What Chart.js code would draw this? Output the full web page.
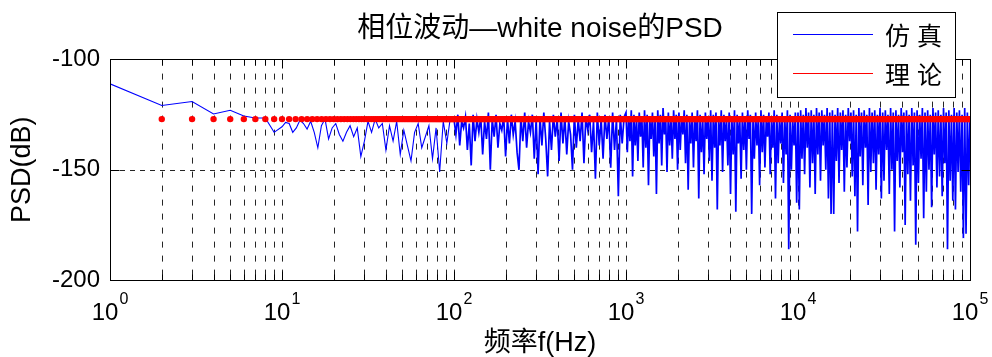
<!DOCTYPE html>
<html>
<head>
<meta charset="utf-8">
<script src="https://cdn.jsdelivr.net/npm/chart.js@4.4.1/dist/chart.umd.min.js"></script>
<style>
  html, body { margin: 0; padding: 0; background: #fff; }
</style>
</head>
<body>
<canvas id="c" width="992" height="357"></canvas>
<script>
// ---------------- data ----------------
const titleText = '相位波动—white noise的PSD';
const xAxisLabel = '频率f(Hz)';
const yAxisLabel = 'PSD(dB)';
const seriesNames = ['仿真', '理论'];
const seriesColors = ['#0000ff', '#ff0000'];

const xMajorTicks = [1, 10, 100, 1000, 10000, 100000];
const xTickExponents = ['0', '1', '2', '3', '4', '5'];
const xMinorMultipliers = [2, 3, 4, 5, 6, 7, 8, 9];
const yTicks = [-200, -150, -100];

// theoretical PSD level of the white phase noise (dB)
const theoryLevel = -127;

// simulated PSD, 1..9 Hz
const simFreqLow = [1, 2, 3, 4, 5, 6, 7, 8, 9];
const simPSDLow = [-111, -120.8, -119, -124.7, -123, -125.6, -126.5, -126.5, -133];

// simulated PSD, 10..100 Hz (48 samples per decade)
const simPSDDec1 = [
  -130.5,-128.5,-129,-133,-131,-127.5,-129,-131.5,
  -128,-133,-140,-130,-127,-136,-131,-129,
  -134,-137,-133,-130,-135,-131,-144,-137,
  -128,-133,-127,-131,-129,-141,-130,-137,
  -128,-143,-132,-139,-146,-133,-129,-140,
  -135,-130,-145,-131,-151,-128,-138,-126
];

// simulated PSD, 100..1000 Hz (90 samples per decade)
const simPSDDec2 = [
  -127,-134,-125,-139,-128,-131,-126,-141,-129,-148,
  -125,-137,-127,-133,-126,-143,-128,-136,-124,-150,
  -127,-135,-125,-140,-129,-132,-126,-144,-127,-138,
  -125,-134,-128,-142,-150,-126,-137,-124,-140,-128,
  -133,-125,-145,-127,-152,-126,-139,-124,-136,-153,
  -128,-141,-125,-135,-127,-146,-124,-138,-126,-143,
  -128,-134,-150,-125,-140,-127,-137,-124,-147,-126,
  -132,-125,-142,-128,-154,-124,-139,-127,-145,-125,
  -136,-126,-149,-124,-141,-127,-162,-125,-138,-126
];

// simulated PSD, 1000..10000 Hz (130 samples per decade)
const simPSDDec3 = [
  -124,-142,-126,-137,-123,-153,-125,-139,-127,-146,
  -124,-135,-126,-149,-123,-140,-125,-157,-127,-136,
  -124,-144,-126,-161,-123,-138,-125,-148,-122,-134,
  -126,-151,-124,-139,-127,-145,-123,-136,-125,-150,
  -124,-141,-126,-134,-123,-147,-125,-159,-127,-138,
  -124,-149,-126,-137,-123,-163,-125,-142,-127,-152,
  -124,-136,-126,-146,-123,-155,-125,-140,-124,-168,
  -126,-139,-123,-151,-125,-137,-127,-148,-124,-161,
  -126,-143,-123,-169,-125,-138,-127,-154,-124,-141,
  -126,-150,-123,-136,-125,-170,-127,-145,-124,-139,
  -126,-157,-123,-142,-125,-149,-127,-135,-124,-152,
  -126,-140,-123,-163,-125,-147,-127,-138,-124,-156,
  -126,-143,-123,-186,-125,-150,-127,-139,-124,-165
];

// simulated PSD, 10000..100000 Hz (130 samples per decade, incl. end point)
const simPSDDec4 = [
  -124,-168,-123,-145,-125,-152,-122,-140,-124,-158,
  -123,-147,-125,-161,-122,-143,-124,-155,-123,-139,
  -125,-150,-122,-163,-124,-170,-123,-170,-125,-146,
  -122,-156,-124,-141,-123,-160,-125,-149,-122,-137,
  -124,-153,-123,-162,-125,-178,-122,-144,-124,-157,
  -123,-140,-125,-166,-122,-151,-124,-147,-123,-159,
  -125,-143,-122,-163,-124,-155,-123,-141,-125,-161,
  -122,-150,-124,-178,-123,-146,-125,-158,-122,-142,
  -124,-175,-123,-152,-125,-164,-122,-148,-124,-184,
  -123,-156,-125,-145,-122,-172,-124,-160,-123,-150,
  -125,-167,-122,-143,-124,-158,-123,-153,-125,-162,
  -122,-147,-124,-186,-123,-155,-125,-164,-122,-168,
  -124,-151,-123,-160,-125,-181,-122,-179,-124,-157,
  -126
];

// ---------------- tables for the library ----------------
function decadePoints(startExp, values, perDecade) {
  return values.map((v, i) => ({ x: Math.pow(10, startExp + i / perDecade), y: v }));
}
const simPoints = simFreqLow.map((f, i) => ({ x: f, y: simPSDLow[i] }))
  .concat(decadePoints(1, simPSDDec1, 48))
  .concat(decadePoints(2, simPSDDec2, 90))
  .concat(decadePoints(3, simPSDDec3, 130))
  .concat(decadePoints(4, simPSDDec4, 130));

// theoretical curve: integer frequency bins 2..99, then dense bins to 1e5
const theoryPoints = [];
for (let f = 2; f < 100; f++) theoryPoints.push({ x: f, y: theoryLevel });
for (let k = 0; k <= 540; k++) theoryPoints.push({ x: Math.pow(10, 2 + k / 180), y: theoryLevel });

const xGridValues = [];
xMajorTicks.forEach(m => {
  xGridValues.push(m);
  if (m < 100000) xMinorMultipliers.forEach(k => xGridValues.push(m * k));
});

const FONT = '"Liberation Sans", "Noto Sans CJK SC", sans-serif';
const CJK_FONT = '"Noto Sans CJK SC", "Noto Sans CJK JP", sans-serif';
Chart.defaults.color = '#000';
Chart.defaults.font.family = FONT;

const matlabAxes = {
  id: 'matlabAxes',
  beforeDatasetsDraw(chart) {
    const { ctx, chartArea: a, scales: { x, y } } = chart;
    ctx.save();
    ctx.strokeStyle = '#262626';
    ctx.lineWidth = 1;
    ctx.setLineDash([6, 8]);
    xGridValues.forEach(v => {
      if (v <= 1 || v >= 100000) return;
      const px = Math.round(x.getPixelForValue(v)) + 0.5;
      ctx.beginPath(); ctx.moveTo(px, a.top); ctx.lineTo(px, a.bottom); ctx.stroke();
    });
    ctx.setLineDash([5, 5]);
    yTicks.forEach(v => {
      if (v <= -200 || v >= -100) return;
      const py = Math.round(y.getPixelForValue(v)) + 0.5;
      ctx.beginPath(); ctx.moveTo(a.left, py); ctx.lineTo(a.right, py); ctx.stroke();
    });
    ctx.restore();
  },
  afterDatasetsDraw(chart) {
    const { ctx, chartArea: a, scales: { x, y } } = chart;
    ctx.save();
    ctx.strokeStyle = '#000';
    ctx.lineWidth = 1;
    ctx.setLineDash([]);
    const L = Math.floor(a.left) + 0.5, R = Math.floor(a.right) + 0.5;
    const T = Math.floor(a.top) + 0.5, B = Math.floor(a.bottom) + 0.5;
    ctx.strokeRect(L, T, R - L, B - T);
    ctx.beginPath();
    xGridValues.forEach(v => {
      if (v <= 1 || v >= 100000) return;
      const len = xMajorTicks.includes(v) ? 9 : 6;
      const px = Math.round(x.getPixelForValue(v)) + 0.5;
      ctx.moveTo(px, B); ctx.lineTo(px, B - len);
      ctx.moveTo(px, T); ctx.lineTo(px, T + len);
    });
    yTicks.forEach(v => {
      if (v <= -200 || v >= -100) return;
      const py = Math.round(y.getPixelForValue(v)) + 0.5;
      ctx.moveTo(L, py); ctx.lineTo(L + 9, py);
      ctx.moveTo(R, py); ctx.lineTo(R - 9, py);
    });
    ctx.stroke();
    ctx.restore();
  },
  afterDraw(chart) {
    const { ctx, chartArea: a, scales: { x } } = chart;
    ctx.save();
    ctx.fillStyle = '#000';
    // title, centred over the plot area
    ctx.font = '28px ' + FONT;
    ctx.textAlign = 'center';
    ctx.textBaseline = 'middle';
    ctx.fillText(titleText, (a.left + a.right) / 2, 29);
    ctx.textBaseline = 'alphabetic';
    ctx.textAlign = 'left';
    // x tick labels 10^n
    xMajorTicks.forEach((v, i) => {
      const px = x.getPixelForValue(v);
      ctx.font = '24px ' + FONT;
      const w1 = ctx.measureText('10').width;
      ctx.font = '16px ' + FONT;
      const w2 = ctx.measureText(xTickExponents[i]).width;
      const start = px - (w1 + w2 + 1) / 2;
      ctx.font = '24px ' + FONT;
      ctx.fillText('10', start, 320);
      ctx.font = '16px ' + FONT;
      ctx.fillText(xTickExponents[i], start + w1 + 1, 304);
    });
    // legend box (overlapping the plot, as in the reference)
    ctx.fillStyle = '#fff';
    ctx.fillRect(777, 12, 179, 86);
    ctx.strokeStyle = '#000';
    ctx.lineWidth = 1;
    ctx.strokeRect(777.5, 12.5, 178, 85);
    const rowsY = [34.5, 73.5];
    seriesNames.forEach((name, i) => {
      ctx.strokeStyle = seriesColors[i];
      ctx.lineWidth = 1.2;
      ctx.beginPath();
      ctx.moveTo(793, rowsY[i]);
      ctx.lineTo(873, rowsY[i]);
      ctx.stroke();
      ctx.fillStyle = '#000';
      ctx.font = '25px ' + CJK_FONT;
      ctx.textBaseline = 'middle';
      let cx = 885;
      for (const ch of name) {
        ctx.fillText(ch, cx, rowsY[i] + 1);
        cx += ctx.measureText(ch).width + 7;
      }
    });
    ctx.restore();
  }
};

new Chart(document.getElementById('c'), {
  type: 'scatter',
  data: {
    datasets: [
      {
        label: seriesNames[1],
        data: theoryPoints,
        showLine: false,
        pointRadius: 3.2,
        pointHoverRadius: 3.2,
        pointBorderWidth: 0,
        backgroundColor: seriesColors[1],
        borderColor: seriesColors[1]
      },
      {
        label: seriesNames[0],
        data: simPoints,
        showLine: true,
        borderColor: seriesColors[0],
        backgroundColor: seriesColors[0],
        borderWidth: 1.6,
        segment: {
          borderWidth: c => (c.p0.parsed.x < 100 ? 1.1 : 1.7)
        },
        pointRadius: 0,
        pointHoverRadius: 0,
        tension: 0,
        fill: false
      }
    ]
  },
  options: {
    responsive: false,
    animation: false,
    events: [],
    layout: { padding: { left: 0, right: 22, top: 59.6, bottom: 0 } },
    plugins: {
      legend: { display: false },
      tooltip: { enabled: false },
      title: { display: false }
    },
    scales: {
      x: {
        type: 'logarithmic',
        position: 'bottom',
        min: 1,
        max: 100000,
        grid: { display: false, drawTicks: false },
        border: { display: false },
        ticks: { display: false },
        title: {
          display: true,
          text: xAxisLabel,
          color: '#000',
          font: { size: 27, family: FONT, lineHeight: 1 },
          padding: { top: 0, bottom: 0 }
        },
        afterFit(scale) { scale.height = 77; }
      },
      y: {
        type: 'linear',
        position: 'left',
        min: -200,
        max: -100,
        afterBuildTicks(scale) { scale.ticks = yTicks.map(v => ({ value: v })); },
        grid: { display: false, drawTicks: false, tickLength: 0 },
        border: { display: false },
        ticks: {
          color: '#000',
          padding: 10,
          font: { size: 24, family: FONT },
          callback: v => String(v)
        },
        title: {
          display: true,
          text: yAxisLabel,
          color: '#000',
          font: { size: 27, family: FONT, lineHeight: 1 },
          padding: { top: 9, bottom: 0 }
        },
        afterFit(scale) { scale.width = 110; }
      }
    }
  },
  plugins: [matlabAxes]
});
</script>
</body>
</html>
